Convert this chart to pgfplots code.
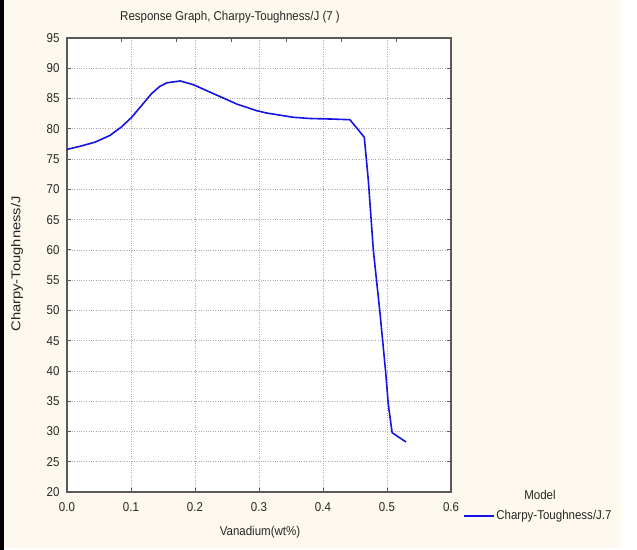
\documentclass[border=0pt]{standalone}
\usepackage{fontspec}
\setmainfont{Liberation Sans}[FakeStretch=0.9]
\usepackage{pgfplots}
\pgfplotsset{compat=1.18}
\definecolor{cream}{HTML}{FDF9EE}
\definecolor{axgray}{HTML}{5A5A5A}
\definecolor{txt}{HTML}{262626}
\definecolor{curveblue}{HTML}{1414E6}
\begin{document}
\fontsize{12.8bp}{15bp}\selectfont
\begin{tikzpicture}[x=1bp,y=1bp]
\fill[white] (0,0) rectangle (637,550);
\fill[cream] (4,2) rectangle (621,550);
\fill[black] (0,0) rectangle (4,550);
\begin{axis}[
  at={(67bp,58bp)}, anchor=south west, scale only axis,
  width=384bp, height=454bp,
  xmin=0, xmax=0.6, ymin=20, ymax=95,
  xtick={0,0.1,0.2,0.3,0.4,0.5,0.6},
  ytick={20,25,30,35,40,45,50,55,60,65,70,75,80,85,90,95},
  x tick label style={yshift=-6bp},
  y tick label style={xshift=-3bp},
  x tick label style={/pgf/number format/.cd, fixed, fixed zerofill, precision=1},
  /pgf/number format/assume math mode=true,
  tick label style={font=\fontsize{12.8bp}{15bp}\selectfont, text=txt},
  grid=major, major grid style={dotted, gray!65, line width=0.7bp},
  axis line style={axgray, line width=1.3bp},
  tick style={axgray, line width=0.8bp}, major tick length=4bp, tick align=inside,
  xtick pos=left, ytick pos=both,
  axis background/.style={fill=white},
  legend style={at={(1.03,-0.053)}, anchor=west, draw=none, fill=none, inner sep=0pt,
    font=\fontsize{12.8bp}{15bp}\selectfont, text=txt},
  legend cell align=left,
  legend image code/.code={\draw[#1] (0bp,0bp) -- (30bp,0bp);},
]
\addplot[curveblue, line width=1.6bp] coordinates {
(0,76.6) (0.02,77.1) (0.044,77.8) (0.067,78.9) (0.085,80.3) (0.101,81.9)
(0.117,83.9) (0.132,85.8) (0.145,87.0) (0.156,87.6) (0.177,87.9) (0.197,87.3)
(0.229,85.8) (0.265,84.1) (0.296,83.0) (0.312,82.6) (0.354,81.9) (0.38,81.7)
(0.417,81.6) (0.442,81.5) (0.453,80.1) (0.4645,78.6) (0.4708,71.5) (0.4786,60.0)
(0.489,49.6) (0.498,39.7) (0.502,34.5) (0.508,29.8) (0.5297,28.25)
};
\addlegendentry{Charpy-Toughness/J.7}
\end{axis}
\begin{axis}[
  at={(67bp,58bp)}, anchor=south west, scale only axis,
  width=384bp, height=454bp,
  xmin=0, xmax=0.6, ymin=20, ymax=95,
  axis line style={draw=none},
  xtick={0.085714,0.171429,0.257143,0.342857,0.428571,0.514286},
  xticklabels={}, ytick=\empty,
  xtick pos=right,
  tick style={axgray, line width=0.8bp}, major tick length=4bp, tick align=inside,
]
\end{axis}
\node[text=txt] at (230,533) {Response Graph, Charpy-Toughness/J (7 )};
\node[text=txt, rotate=90] at (17,286) {\scalebox{1.28}[1]{Charpy-Toughness/J}};
\node[text=txt] at (260,18) {Vanadium(wt\%)};
\node[text=txt] at (540,55) {Model};
\end{tikzpicture}
\end{document}
